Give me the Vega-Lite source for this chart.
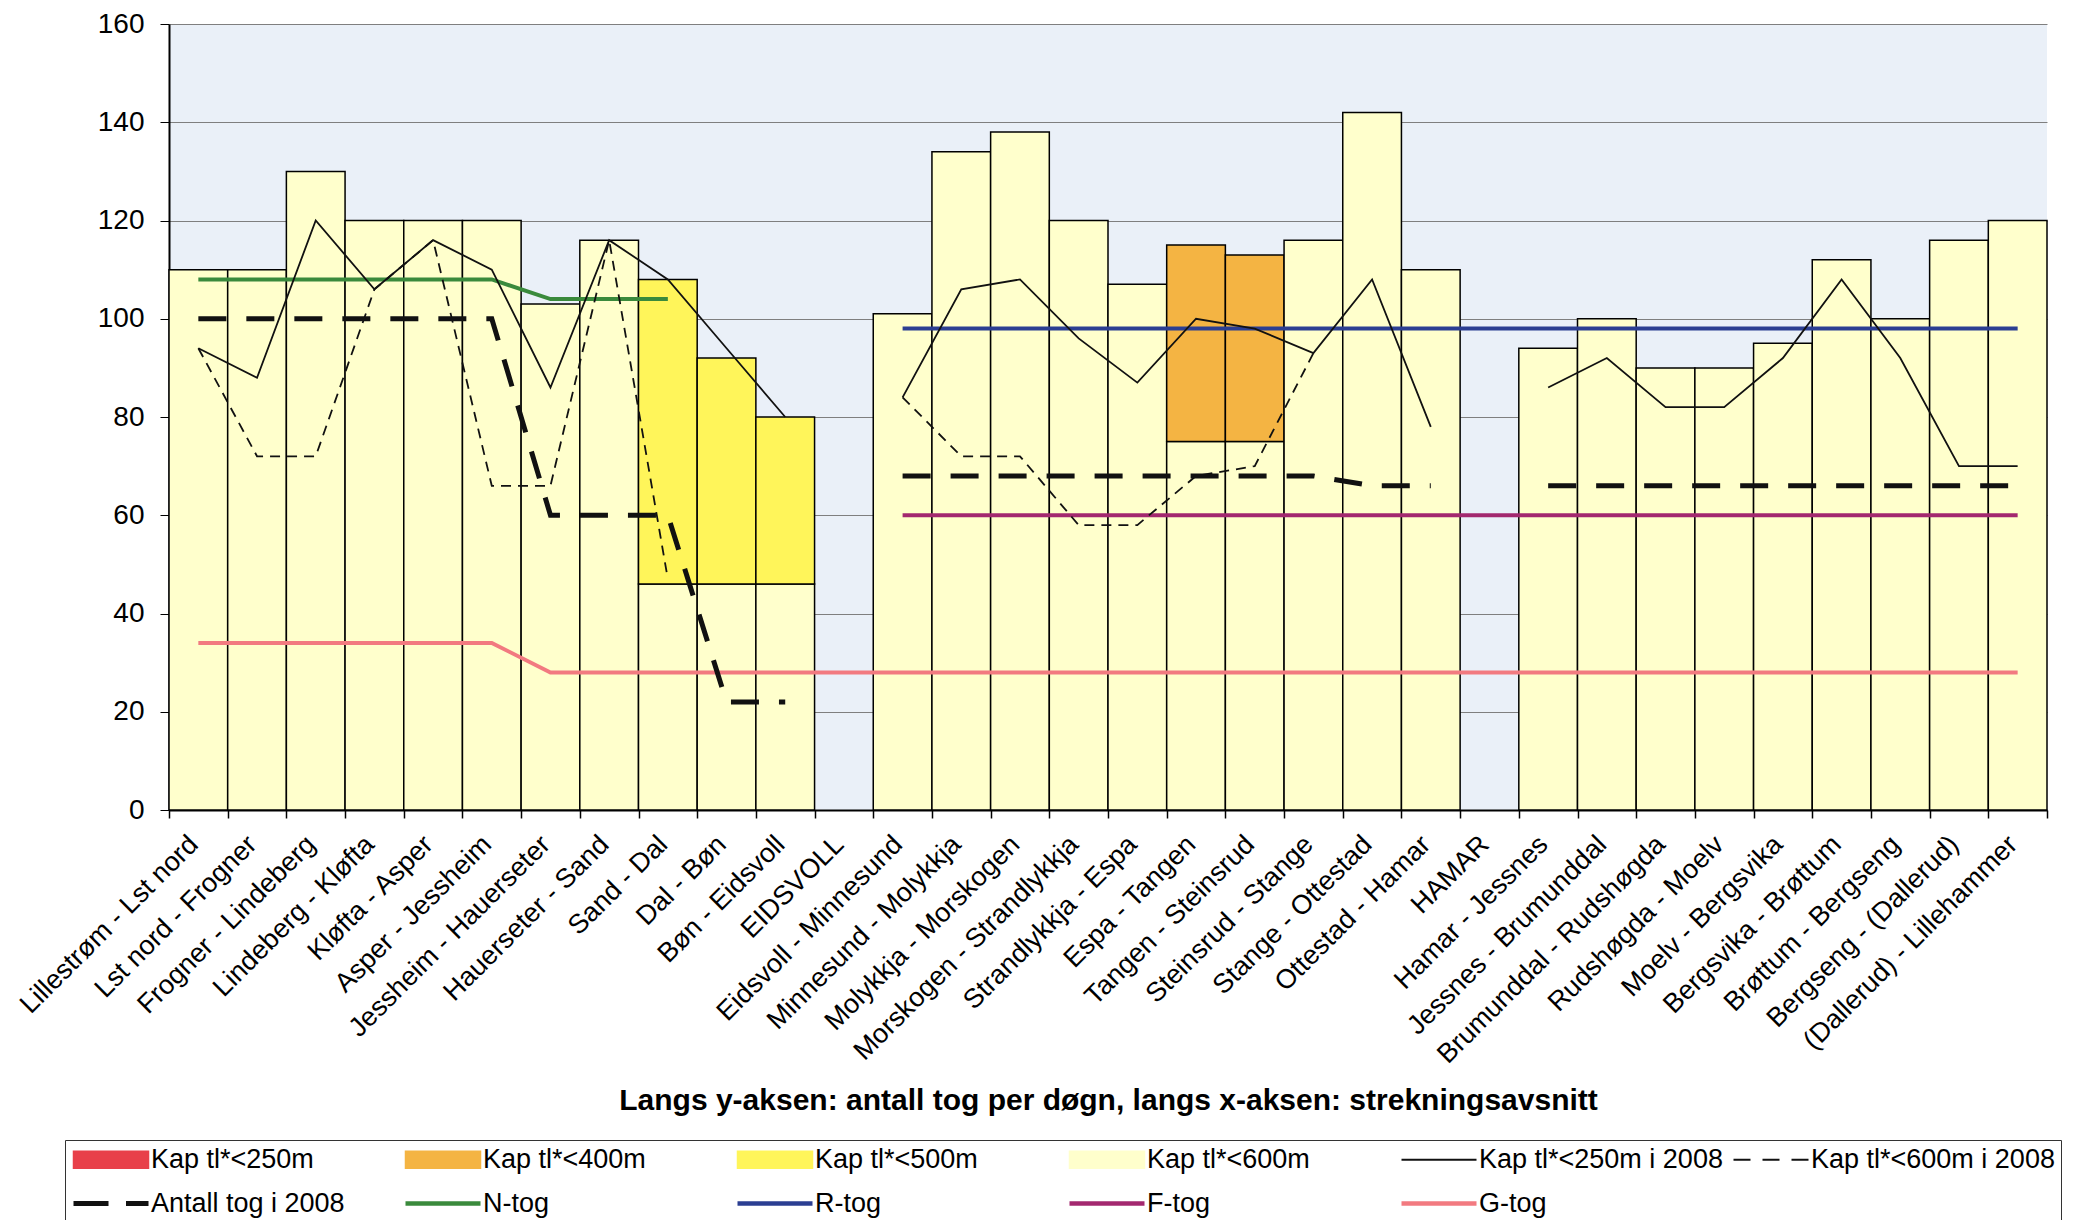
{
  "$schema": "https://vega.github.io/schema/vega-lite/v6.json",
  "width": 1878,
  "height": 786,
  "autosize": {"type": "none"},
  "padding": {"left": 169, "top": 24, "right": 36, "bottom": 410},
  "background": "white",
  "config": {
    "font": "Liberation Sans",
    "view": {"fill": "#EAF0F8", "stroke": null},
    "axis": {"labelFont": "Liberation Sans", "titleFont": "Liberation Sans", "labelColor": "black", "titleColor": "black"}
  },
  "datasets": {
    "bars": [
      {"x": "Lillestrøm - Lst nord", "s": "Kap tl*<600m", "lo": 0, "hi": 110},
      {"x": "Lst nord - Frogner", "s": "Kap tl*<600m", "lo": 0, "hi": 110},
      {"x": "Frogner - Lindeberg", "s": "Kap tl*<600m", "lo": 0, "hi": 130},
      {"x": "Lindeberg - Kløfta", "s": "Kap tl*<600m", "lo": 0, "hi": 120},
      {"x": "Kløfta - Asper", "s": "Kap tl*<600m", "lo": 0, "hi": 120},
      {"x": "Asper - Jessheim", "s": "Kap tl*<600m", "lo": 0, "hi": 120},
      {"x": "Jessheim - Hauerseter", "s": "Kap tl*<600m", "lo": 0, "hi": 103},
      {"x": "Hauerseter - Sand", "s": "Kap tl*<600m", "lo": 0, "hi": 116},
      {"x": "Sand - Dal", "s": "Kap tl*<600m", "lo": 0, "hi": 46},
      {"x": "Sand - Dal", "s": "Kap tl*<500m", "lo": 46, "hi": 108},
      {"x": "Dal - Bøn", "s": "Kap tl*<600m", "lo": 0, "hi": 46},
      {"x": "Dal - Bøn", "s": "Kap tl*<500m", "lo": 46, "hi": 92},
      {"x": "Bøn - Eidsvoll", "s": "Kap tl*<600m", "lo": 0, "hi": 46},
      {"x": "Bøn - Eidsvoll", "s": "Kap tl*<500m", "lo": 46, "hi": 80},
      {"x": "Eidsvoll - Minnesund", "s": "Kap tl*<600m", "lo": 0, "hi": 101},
      {"x": "Minnesund - Molykkja", "s": "Kap tl*<600m", "lo": 0, "hi": 134},
      {"x": "Molykkja - Morskogen", "s": "Kap tl*<600m", "lo": 0, "hi": 138},
      {"x": "Morskogen - Strandlykkja", "s": "Kap tl*<600m", "lo": 0, "hi": 120},
      {"x": "Strandlykkja - Espa", "s": "Kap tl*<600m", "lo": 0, "hi": 107},
      {"x": "Espa - Tangen", "s": "Kap tl*<600m", "lo": 0, "hi": 75},
      {"x": "Espa - Tangen", "s": "Kap tl*<400m", "lo": 75, "hi": 115},
      {"x": "Tangen - Steinsrud", "s": "Kap tl*<600m", "lo": 0, "hi": 75},
      {"x": "Tangen - Steinsrud", "s": "Kap tl*<400m", "lo": 75, "hi": 113},
      {"x": "Steinsrud - Stange", "s": "Kap tl*<600m", "lo": 0, "hi": 116},
      {"x": "Stange - Ottestad", "s": "Kap tl*<600m", "lo": 0, "hi": 142},
      {"x": "Ottestad - Hamar", "s": "Kap tl*<600m", "lo": 0, "hi": 110},
      {"x": "Hamar - Jessnes", "s": "Kap tl*<600m", "lo": 0, "hi": 94},
      {"x": "Jessnes - Brumunddal", "s": "Kap tl*<600m", "lo": 0, "hi": 100},
      {"x": "Brumunddal - Rudshøgda", "s": "Kap tl*<600m", "lo": 0, "hi": 90},
      {"x": "Rudshøgda - Moelv", "s": "Kap tl*<600m", "lo": 0, "hi": 90},
      {"x": "Moelv - Bergsvika", "s": "Kap tl*<600m", "lo": 0, "hi": 95},
      {"x": "Bergsvika - Brøttum", "s": "Kap tl*<600m", "lo": 0, "hi": 112},
      {"x": "Brøttum - Bergseng", "s": "Kap tl*<600m", "lo": 0, "hi": 100},
      {"x": "Bergseng - (Dallerud)", "s": "Kap tl*<600m", "lo": 0, "hi": 116},
      {"x": "(Dallerud) - Lillehammer", "s": "Kap tl*<600m", "lo": 0, "hi": 120}
    ],
    "lines": [
      {"s": "Kap tl*<250m i 2008", "g": "a", "i": 1, "x": "Lillestrøm - Lst nord", "v": 94},
      {"s": "Kap tl*<250m i 2008", "g": "a", "i": 2, "x": "Lst nord - Frogner", "v": 88},
      {"s": "Kap tl*<250m i 2008", "g": "a", "i": 3, "x": "Frogner - Lindeberg", "v": 120},
      {"s": "Kap tl*<250m i 2008", "g": "a", "i": 4, "x": "Lindeberg - Kløfta", "v": 106},
      {"s": "Kap tl*<250m i 2008", "g": "a", "i": 5, "x": "Kløfta - Asper", "v": 116},
      {"s": "Kap tl*<250m i 2008", "g": "a", "i": 6, "x": "Asper - Jessheim", "v": 110},
      {"s": "Kap tl*<250m i 2008", "g": "a", "i": 7, "x": "Jessheim - Hauerseter", "v": 86},
      {"s": "Kap tl*<250m i 2008", "g": "a", "i": 8, "x": "Hauerseter - Sand", "v": 116},
      {"s": "Kap tl*<250m i 2008", "g": "a", "i": 9, "x": "Sand - Dal", "v": 108},
      {"s": "Kap tl*<250m i 2008", "g": "a", "i": 10, "x": "Dal - Bøn", "v": 94},
      {"s": "Kap tl*<250m i 2008", "g": "a", "i": 11, "x": "Bøn - Eidsvoll", "v": 80},
      {"s": "Kap tl*<250m i 2008", "g": "b", "i": 13, "x": "Eidsvoll - Minnesund", "v": 84},
      {"s": "Kap tl*<250m i 2008", "g": "b", "i": 14, "x": "Minnesund - Molykkja", "v": 106},
      {"s": "Kap tl*<250m i 2008", "g": "b", "i": 15, "x": "Molykkja - Morskogen", "v": 108},
      {"s": "Kap tl*<250m i 2008", "g": "b", "i": 16, "x": "Morskogen - Strandlykkja", "v": 96},
      {"s": "Kap tl*<250m i 2008", "g": "b", "i": 17, "x": "Strandlykkja - Espa", "v": 87},
      {"s": "Kap tl*<250m i 2008", "g": "b", "i": 18, "x": "Espa - Tangen", "v": 100},
      {"s": "Kap tl*<250m i 2008", "g": "b", "i": 19, "x": "Tangen - Steinsrud", "v": 98},
      {"s": "Kap tl*<250m i 2008", "g": "b", "i": 20, "x": "Steinsrud - Stange", "v": 93},
      {"s": "Kap tl*<250m i 2008", "g": "b", "i": 21, "x": "Stange - Ottestad", "v": 108},
      {"s": "Kap tl*<250m i 2008", "g": "b", "i": 22, "x": "Ottestad - Hamar", "v": 78},
      {"s": "Kap tl*<250m i 2008", "g": "c", "i": 24, "x": "Hamar - Jessnes", "v": 86},
      {"s": "Kap tl*<250m i 2008", "g": "c", "i": 25, "x": "Jessnes - Brumunddal", "v": 92},
      {"s": "Kap tl*<250m i 2008", "g": "c", "i": 26, "x": "Brumunddal - Rudshøgda", "v": 82},
      {"s": "Kap tl*<250m i 2008", "g": "c", "i": 27, "x": "Rudshøgda - Moelv", "v": 82},
      {"s": "Kap tl*<250m i 2008", "g": "c", "i": 28, "x": "Moelv - Bergsvika", "v": 92},
      {"s": "Kap tl*<250m i 2008", "g": "c", "i": 29, "x": "Bergsvika - Brøttum", "v": 108},
      {"s": "Kap tl*<250m i 2008", "g": "c", "i": 30, "x": "Brøttum - Bergseng", "v": 92},
      {"s": "Kap tl*<250m i 2008", "g": "c", "i": 31, "x": "Bergseng - (Dallerud)", "v": 70},
      {"s": "Kap tl*<250m i 2008", "g": "c", "i": 32, "x": "(Dallerud) - Lillehammer", "v": 70},

      {"s": "Kap tl*<600m i 2008", "g": "a", "i": 1, "x": "Lillestrøm - Lst nord", "v": 94},
      {"s": "Kap tl*<600m i 2008", "g": "a", "i": 2, "x": "Lst nord - Frogner", "v": 72},
      {"s": "Kap tl*<600m i 2008", "g": "a", "i": 3, "x": "Frogner - Lindeberg", "v": 72},
      {"s": "Kap tl*<600m i 2008", "g": "a", "i": 4, "x": "Lindeberg - Kløfta", "v": 106},
      {"s": "Kap tl*<600m i 2008", "g": "a", "i": 5, "x": "Kløfta - Asper", "v": 116},
      {"s": "Kap tl*<600m i 2008", "g": "a", "i": 6, "x": "Asper - Jessheim", "v": 66},
      {"s": "Kap tl*<600m i 2008", "g": "a", "i": 7, "x": "Jessheim - Hauerseter", "v": 66},
      {"s": "Kap tl*<600m i 2008", "g": "a", "i": 8, "x": "Hauerseter - Sand", "v": 116},
      {"s": "Kap tl*<600m i 2008", "g": "a", "i": 9, "x": "Sand - Dal", "v": 47},
      {"s": "Kap tl*<600m i 2008", "g": "b", "i": 13, "x": "Eidsvoll - Minnesund", "v": 84},
      {"s": "Kap tl*<600m i 2008", "g": "b", "i": 14, "x": "Minnesund - Molykkja", "v": 72},
      {"s": "Kap tl*<600m i 2008", "g": "b", "i": 15, "x": "Molykkja - Morskogen", "v": 72},
      {"s": "Kap tl*<600m i 2008", "g": "b", "i": 16, "x": "Morskogen - Strandlykkja", "v": 58},
      {"s": "Kap tl*<600m i 2008", "g": "b", "i": 17, "x": "Strandlykkja - Espa", "v": 58},
      {"s": "Kap tl*<600m i 2008", "g": "b", "i": 18, "x": "Espa - Tangen", "v": 68},
      {"s": "Kap tl*<600m i 2008", "g": "b", "i": 19, "x": "Tangen - Steinsrud", "v": 70},
      {"s": "Kap tl*<600m i 2008", "g": "b", "i": 20, "x": "Steinsrud - Stange", "v": 93},

      {"s": "Antall tog i 2008", "g": "a", "i": 1, "x": "Lillestrøm - Lst nord", "v": 100},
      {"s": "Antall tog i 2008", "g": "a", "i": 2, "x": "Lst nord - Frogner", "v": 100},
      {"s": "Antall tog i 2008", "g": "a", "i": 3, "x": "Frogner - Lindeberg", "v": 100},
      {"s": "Antall tog i 2008", "g": "a", "i": 4, "x": "Lindeberg - Kløfta", "v": 100},
      {"s": "Antall tog i 2008", "g": "a", "i": 5, "x": "Kløfta - Asper", "v": 100},
      {"s": "Antall tog i 2008", "g": "a", "i": 6, "x": "Asper - Jessheim", "v": 100},
      {"s": "Antall tog i 2008", "g": "a", "i": 7, "x": "Jessheim - Hauerseter", "v": 60},
      {"s": "Antall tog i 2008", "g": "a", "i": 8, "x": "Hauerseter - Sand", "v": 60},
      {"s": "Antall tog i 2008", "g": "a", "i": 9, "x": "Sand - Dal", "v": 60},
      {"s": "Antall tog i 2008", "g": "a", "i": 10, "x": "Dal - Bøn", "v": 22},
      {"s": "Antall tog i 2008", "g": "a", "i": 11, "x": "Bøn - Eidsvoll", "v": 22},
      {"s": "Antall tog i 2008", "g": "b", "i": 13, "x": "Eidsvoll - Minnesund", "v": 68},
      {"s": "Antall tog i 2008", "g": "b", "i": 14, "x": "Minnesund - Molykkja", "v": 68},
      {"s": "Antall tog i 2008", "g": "b", "i": 15, "x": "Molykkja - Morskogen", "v": 68},
      {"s": "Antall tog i 2008", "g": "b", "i": 16, "x": "Morskogen - Strandlykkja", "v": 68},
      {"s": "Antall tog i 2008", "g": "b", "i": 17, "x": "Strandlykkja - Espa", "v": 68},
      {"s": "Antall tog i 2008", "g": "b", "i": 18, "x": "Espa - Tangen", "v": 68},
      {"s": "Antall tog i 2008", "g": "b", "i": 19, "x": "Tangen - Steinsrud", "v": 68},
      {"s": "Antall tog i 2008", "g": "b", "i": 20, "x": "Steinsrud - Stange", "v": 68},
      {"s": "Antall tog i 2008", "g": "b", "i": 21, "x": "Stange - Ottestad", "v": 66},
      {"s": "Antall tog i 2008", "g": "b", "i": 22, "x": "Ottestad - Hamar", "v": 66},
      {"s": "Antall tog i 2008", "g": "c", "i": 24, "x": "Hamar - Jessnes", "v": 66},
      {"s": "Antall tog i 2008", "g": "c", "i": 25, "x": "Jessnes - Brumunddal", "v": 66},
      {"s": "Antall tog i 2008", "g": "c", "i": 26, "x": "Brumunddal - Rudshøgda", "v": 66},
      {"s": "Antall tog i 2008", "g": "c", "i": 27, "x": "Rudshøgda - Moelv", "v": 66},
      {"s": "Antall tog i 2008", "g": "c", "i": 28, "x": "Moelv - Bergsvika", "v": 66},
      {"s": "Antall tog i 2008", "g": "c", "i": 29, "x": "Bergsvika - Brøttum", "v": 66},
      {"s": "Antall tog i 2008", "g": "c", "i": 30, "x": "Brøttum - Bergseng", "v": 66},
      {"s": "Antall tog i 2008", "g": "c", "i": 31, "x": "Bergseng - (Dallerud)", "v": 66},
      {"s": "Antall tog i 2008", "g": "c", "i": 32, "x": "(Dallerud) - Lillehammer", "v": 66},

      {"s": "N-tog", "g": "a", "i": 1, "x": "Lillestrøm - Lst nord", "v": 108},
      {"s": "N-tog", "g": "a", "i": 2, "x": "Lst nord - Frogner", "v": 108},
      {"s": "N-tog", "g": "a", "i": 3, "x": "Frogner - Lindeberg", "v": 108},
      {"s": "N-tog", "g": "a", "i": 4, "x": "Lindeberg - Kløfta", "v": 108},
      {"s": "N-tog", "g": "a", "i": 5, "x": "Kløfta - Asper", "v": 108},
      {"s": "N-tog", "g": "a", "i": 6, "x": "Asper - Jessheim", "v": 108},
      {"s": "N-tog", "g": "a", "i": 7, "x": "Jessheim - Hauerseter", "v": 104},
      {"s": "N-tog", "g": "a", "i": 8, "x": "Hauerseter - Sand", "v": 104},
      {"s": "N-tog", "g": "a", "i": 9, "x": "Sand - Dal", "v": 104},

      {"s": "R-tog", "g": "a", "i": 13, "x": "Eidsvoll - Minnesund", "v": 98},
      {"s": "R-tog", "g": "a", "i": 14, "x": "Minnesund - Molykkja", "v": 98},
      {"s": "R-tog", "g": "a", "i": 15, "x": "Molykkja - Morskogen", "v": 98},
      {"s": "R-tog", "g": "a", "i": 16, "x": "Morskogen - Strandlykkja", "v": 98},
      {"s": "R-tog", "g": "a", "i": 17, "x": "Strandlykkja - Espa", "v": 98},
      {"s": "R-tog", "g": "a", "i": 18, "x": "Espa - Tangen", "v": 98},
      {"s": "R-tog", "g": "a", "i": 19, "x": "Tangen - Steinsrud", "v": 98},
      {"s": "R-tog", "g": "a", "i": 20, "x": "Steinsrud - Stange", "v": 98},
      {"s": "R-tog", "g": "a", "i": 21, "x": "Stange - Ottestad", "v": 98},
      {"s": "R-tog", "g": "a", "i": 22, "x": "Ottestad - Hamar", "v": 98},
      {"s": "R-tog", "g": "a", "i": 23, "x": "HAMAR", "v": 98},
      {"s": "R-tog", "g": "a", "i": 24, "x": "Hamar - Jessnes", "v": 98},
      {"s": "R-tog", "g": "a", "i": 25, "x": "Jessnes - Brumunddal", "v": 98},
      {"s": "R-tog", "g": "a", "i": 26, "x": "Brumunddal - Rudshøgda", "v": 98},
      {"s": "R-tog", "g": "a", "i": 27, "x": "Rudshøgda - Moelv", "v": 98},
      {"s": "R-tog", "g": "a", "i": 28, "x": "Moelv - Bergsvika", "v": 98},
      {"s": "R-tog", "g": "a", "i": 29, "x": "Bergsvika - Brøttum", "v": 98},
      {"s": "R-tog", "g": "a", "i": 30, "x": "Brøttum - Bergseng", "v": 98},
      {"s": "R-tog", "g": "a", "i": 31, "x": "Bergseng - (Dallerud)", "v": 98},
      {"s": "R-tog", "g": "a", "i": 32, "x": "(Dallerud) - Lillehammer", "v": 98},

      {"s": "F-tog", "g": "a", "i": 13, "x": "Eidsvoll - Minnesund", "v": 60},
      {"s": "F-tog", "g": "a", "i": 14, "x": "Minnesund - Molykkja", "v": 60},
      {"s": "F-tog", "g": "a", "i": 15, "x": "Molykkja - Morskogen", "v": 60},
      {"s": "F-tog", "g": "a", "i": 16, "x": "Morskogen - Strandlykkja", "v": 60},
      {"s": "F-tog", "g": "a", "i": 17, "x": "Strandlykkja - Espa", "v": 60},
      {"s": "F-tog", "g": "a", "i": 18, "x": "Espa - Tangen", "v": 60},
      {"s": "F-tog", "g": "a", "i": 19, "x": "Tangen - Steinsrud", "v": 60},
      {"s": "F-tog", "g": "a", "i": 20, "x": "Steinsrud - Stange", "v": 60},
      {"s": "F-tog", "g": "a", "i": 21, "x": "Stange - Ottestad", "v": 60},
      {"s": "F-tog", "g": "a", "i": 22, "x": "Ottestad - Hamar", "v": 60},
      {"s": "F-tog", "g": "a", "i": 23, "x": "HAMAR", "v": 60},
      {"s": "F-tog", "g": "a", "i": 24, "x": "Hamar - Jessnes", "v": 60},
      {"s": "F-tog", "g": "a", "i": 25, "x": "Jessnes - Brumunddal", "v": 60},
      {"s": "F-tog", "g": "a", "i": 26, "x": "Brumunddal - Rudshøgda", "v": 60},
      {"s": "F-tog", "g": "a", "i": 27, "x": "Rudshøgda - Moelv", "v": 60},
      {"s": "F-tog", "g": "a", "i": 28, "x": "Moelv - Bergsvika", "v": 60},
      {"s": "F-tog", "g": "a", "i": 29, "x": "Bergsvika - Brøttum", "v": 60},
      {"s": "F-tog", "g": "a", "i": 30, "x": "Brøttum - Bergseng", "v": 60},
      {"s": "F-tog", "g": "a", "i": 31, "x": "Bergseng - (Dallerud)", "v": 60},
      {"s": "F-tog", "g": "a", "i": 32, "x": "(Dallerud) - Lillehammer", "v": 60},

      {"s": "G-tog", "g": "a", "i": 1, "x": "Lillestrøm - Lst nord", "v": 34},
      {"s": "G-tog", "g": "a", "i": 2, "x": "Lst nord - Frogner", "v": 34},
      {"s": "G-tog", "g": "a", "i": 3, "x": "Frogner - Lindeberg", "v": 34},
      {"s": "G-tog", "g": "a", "i": 4, "x": "Lindeberg - Kløfta", "v": 34},
      {"s": "G-tog", "g": "a", "i": 5, "x": "Kløfta - Asper", "v": 34},
      {"s": "G-tog", "g": "a", "i": 6, "x": "Asper - Jessheim", "v": 34},
      {"s": "G-tog", "g": "a", "i": 7, "x": "Jessheim - Hauerseter", "v": 28},
      {"s": "G-tog", "g": "a", "i": 8, "x": "Hauerseter - Sand", "v": 28},
      {"s": "G-tog", "g": "a", "i": 9, "x": "Sand - Dal", "v": 28},
      {"s": "G-tog", "g": "a", "i": 10, "x": "Dal - Bøn", "v": 28},
      {"s": "G-tog", "g": "a", "i": 11, "x": "Bøn - Eidsvoll", "v": 28},
      {"s": "G-tog", "g": "a", "i": 12, "x": "EIDSVOLL", "v": 28},
      {"s": "G-tog", "g": "a", "i": 13, "x": "Eidsvoll - Minnesund", "v": 28},
      {"s": "G-tog", "g": "a", "i": 14, "x": "Minnesund - Molykkja", "v": 28},
      {"s": "G-tog", "g": "a", "i": 15, "x": "Molykkja - Morskogen", "v": 28},
      {"s": "G-tog", "g": "a", "i": 16, "x": "Morskogen - Strandlykkja", "v": 28},
      {"s": "G-tog", "g": "a", "i": 17, "x": "Strandlykkja - Espa", "v": 28},
      {"s": "G-tog", "g": "a", "i": 18, "x": "Espa - Tangen", "v": 28},
      {"s": "G-tog", "g": "a", "i": 19, "x": "Tangen - Steinsrud", "v": 28},
      {"s": "G-tog", "g": "a", "i": 20, "x": "Steinsrud - Stange", "v": 28},
      {"s": "G-tog", "g": "a", "i": 21, "x": "Stange - Ottestad", "v": 28},
      {"s": "G-tog", "g": "a", "i": 22, "x": "Ottestad - Hamar", "v": 28},
      {"s": "G-tog", "g": "a", "i": 23, "x": "HAMAR", "v": 28},
      {"s": "G-tog", "g": "a", "i": 24, "x": "Hamar - Jessnes", "v": 28},
      {"s": "G-tog", "g": "a", "i": 25, "x": "Jessnes - Brumunddal", "v": 28},
      {"s": "G-tog", "g": "a", "i": 26, "x": "Brumunddal - Rudshøgda", "v": 28},
      {"s": "G-tog", "g": "a", "i": 27, "x": "Rudshøgda - Moelv", "v": 28},
      {"s": "G-tog", "g": "a", "i": 28, "x": "Moelv - Bergsvika", "v": 28},
      {"s": "G-tog", "g": "a", "i": 29, "x": "Bergsvika - Brøttum", "v": 28},
      {"s": "G-tog", "g": "a", "i": 30, "x": "Brøttum - Bergseng", "v": 28},
      {"s": "G-tog", "g": "a", "i": 31, "x": "Bergseng - (Dallerud)", "v": 28},
      {"s": "G-tog", "g": "a", "i": 32, "x": "(Dallerud) - Lillehammer", "v": 28}
    ]
  },
  "encoding": {
    "x": {
      "field": "x", "type": "nominal",
      "scale": {"padding": 0, "domain": ["Lillestrøm - Lst nord", "Lst nord - Frogner", "Frogner - Lindeberg", "Lindeberg - Kløfta", "Kløfta - Asper", "Asper - Jessheim", "Jessheim - Hauerseter", "Hauerseter - Sand", "Sand - Dal", "Dal - Bøn", "Bøn - Eidsvoll", "EIDSVOLL", "Eidsvoll - Minnesund", "Minnesund - Molykkja", "Molykkja - Morskogen", "Morskogen - Strandlykkja", "Strandlykkja - Espa", "Espa - Tangen", "Tangen - Steinsrud", "Steinsrud - Stange", "Stange - Ottestad", "Ottestad - Hamar", "HAMAR", "Hamar - Jessnes", "Jessnes - Brumunddal", "Brumunddal - Rudshøgda", "Rudshøgda - Moelv", "Moelv - Bergsvika", "Bergsvika - Brøttum", "Brøttum - Bergseng", "Bergseng - (Dallerud)", "(Dallerud) - Lillehammer"]},
      "axis": {
        "title": "Langs y-aksen: antall tog per døgn, langs x-aksen: strekningsavsnitt",
        "titleFontSize": 30, "titleFontWeight": "bold", "titleY": 290, "titleBaseline": "middle",
        "labelAngle": -45, "labelAlign": "right", "labelBaseline": "middle", "labelFontSize": 27, "labelPadding": 22, "labelOffset": -5, "labelLimit": 0,
        "ticks": true, "tickBand": "extent", "tickSize": 8, "tickColor": "black", "tickWidth": 1.5,
        "domainColor": "black", "domainWidth": 2, "grid": false
      }
    },
    "color": {
      "field": "s", "type": "nominal",
      "scale": {
        "domain": ["Kap tl*<250m", "Kap tl*<400m", "Kap tl*<500m", "Kap tl*<600m", "Kap tl*<250m i 2008", "Kap tl*<600m i 2008", "Antall tog i 2008", "N-tog", "R-tog", "F-tog", "G-tog"],
        "range": ["#E8404A", "#F4B443", "#FFF55A", "#FFFFCC", "#111111", "#111111", "#111111", "#3A8A3C", "#2B3E92", "#A3286F", "#F27A80"]
      },
      "legend": {
        "title": null, "orient": "none", "legendX": -104, "legendY": 1116,
        "columns": 6, "direction": "horizontal", "gridAlign": "all",
        "symbolSize": 100, "symbolStrokeWidth": 1.5, "symbolStrokeColor": "black", "symbolOffset": -11, "labelOffset": 64, "padding": 6,
        "rowPadding": 16, "columnPadding": 7,
        "labelFont": "Liberation Sans", "labelFontSize": 27, "labelColor": "black", "labelLimit": 0,
        "strokeColor": "#333333", "fillColor": "white",
        "encode": {
          "symbols": {
            "update": {
              "shape": {"signal": "datum.index < 4 ? 'M0,-1.7H15V1.7H0Z' : datum.index == 4 ? 'M0,-0.2H15V0.2H0Z' : datum.index == 5 ? 'M0,-0.2H3.4V0.2H0Z M5.8,-0.2H9.2V0.2H5.8Z M11.6,-0.2H15V0.2H11.6Z' : datum.index == 6 ? 'M0,-0.5H7V0.5H0Z M10.5,-0.5H15V0.5H10.5Z' : 'M0,-0.45H15V0.45H0Z'"},
              "size": {"value": 100},
              "strokeWidth": {"signal": "datum.index < 4 ? 1.5 : 0"},
              "fill": {"scale": "color", "field": "value"},
              "stroke": {"signal": "datum.index < 4 ? '#000000' : 'transparent'"},
              "strokeOpacity": {"value": 1},
              "fillOpacity": {"value": 1},
              "opacity": {"value": 1}
            }
          }
        }
      }
    }
  },
  "layer": [
    {
      "data": {"name": "bars"},
      "mark": {"type": "bar", "stroke": "black", "strokeWidth": 1.5, "opacity": 1},
      "encoding": {
        "y": {
          "field": "hi", "type": "quantitative",
          "scale": {"domain": [0, 160], "nice": false},
          "axis": {"title": null, "values": [0, 20, 40, 60, 80, 100, 120, 140, 160], "labelFontSize": 28, "labelPadding": 16, "tickSize": 9, "tickColor": "black", "domainColor": "black", "domainWidth": 2, "gridColor": "#7F7F7F", "gridWidth": 1.2}
        },
        "y2": {"field": "lo"}
      }
    },
    {
      "data": {"name": "lines"},
      "transform": [{"filter": "datum.s == 'G-tog' || datum.s == 'F-tog' || datum.s == 'R-tog' || datum.s == 'N-tog'"}],
      "mark": {"type": "line", "strokeWidth": 4},
      "encoding": {"y": {"field": "v", "type": "quantitative"}, "detail": {"field": "g"}, "order": {"field": "i", "type": "quantitative"}}
    },
    {
      "data": {"name": "lines"},
      "transform": [{"filter": "datum.s == 'Kap tl*<600m i 2008'"}],
      "mark": {"type": "line", "strokeWidth": 1.8, "strokeDash": [10, 7]},
      "encoding": {"y": {"field": "v", "type": "quantitative"}, "detail": {"field": "g"}, "order": {"field": "i", "type": "quantitative"}}
    },
    {
      "data": {"name": "lines"},
      "transform": [{"filter": "datum.s == 'Kap tl*<250m i 2008'"}],
      "mark": {"type": "line", "strokeWidth": 1.8},
      "encoding": {"y": {"field": "v", "type": "quantitative"}, "detail": {"field": "g"}, "order": {"field": "i", "type": "quantitative"}}
    },
    {
      "data": {"name": "lines"},
      "transform": [{"filter": "datum.s == 'Antall tog i 2008'"}],
      "mark": {"type": "line", "strokeWidth": 5, "strokeDash": [28, 20], "strokeCap": "butt"},
      "encoding": {"y": {"field": "v", "type": "quantitative"}, "detail": {"field": "g"}, "order": {"field": "i", "type": "quantitative"}}
    }
  ]
}
